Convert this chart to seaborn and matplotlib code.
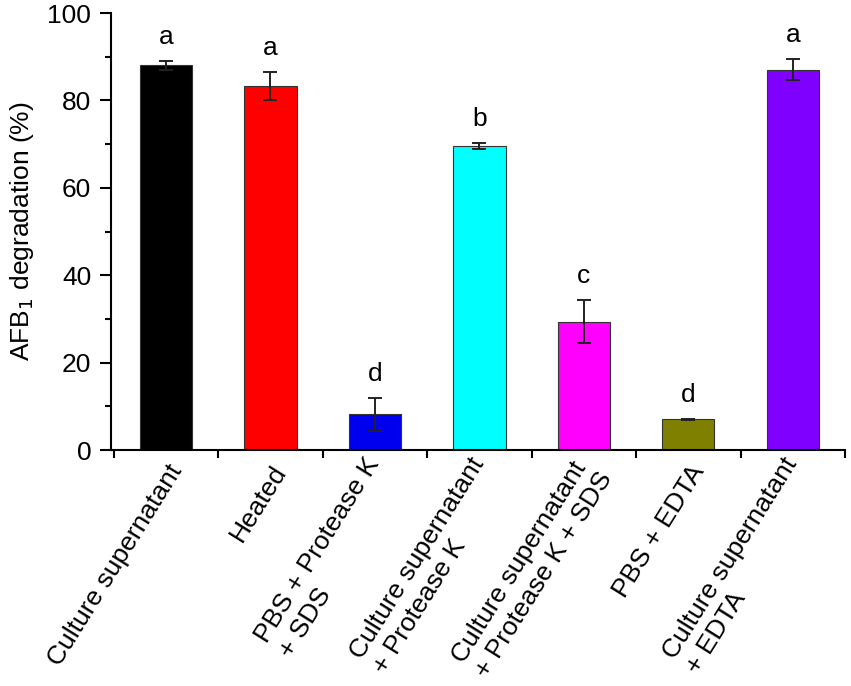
import numpy as np
import pandas as pd
import matplotlib
matplotlib.use("Agg")
import matplotlib.pyplot as plt
import matplotlib.transforms as mtransforms
import seaborn as sns

# data
treatments = ["Culture supernatant", "Heated", "PBS + Protease K\n+ SDS",
              "Culture supernatant\n+ Protease K",
              "Culture supernatant\n+ Protease K + SDS",
              "PBS + EDTA", "Culture supernatant\n+ EDTA"]
degradation = [88.0, 83.4, 8.2, 69.6, 29.4, 7.0, 87.0]
errors = [1.0, 3.2, 3.8, 0.7, 4.9, 0.2, 2.4]
letters = ["a", "a", "d", "b", "c", "d", "a"]
bar_colors = ["#000000", "#ff0000", "#0000ee", "#00ffff", "#ff00ff", "#808000", "#8000ff"]

sns.set_style("ticks", {"axes.edgecolor": "black", "xtick.color": "black",
                        "ytick.color": "black", "text.color": "black",
                        "axes.labelcolor": "black"})
plt.rcParams['font.family'] = ['Liberation Sans', 'DejaVu Sans']

df = pd.DataFrame({"treatment": treatments, "deg": degradation})

fig = plt.figure(figsize=(8.51, 6.86), dpi=100)
ax = fig.add_axes([0.130, 0.344, 0.863, 0.637])

sns.barplot(data=df, x="treatment", y="deg", hue="treatment", palette=bar_colors,
            saturation=1, width=0.5, edgecolor="#333333", linewidth=0.8,
            legend=False, ax=ax)
ax.errorbar(np.arange(len(treatments)), degradation, yerr=errors, fmt="none",
            ecolor="#222222", elinewidth=1.4, capsize=5, capthick=1.4)

for i, (v, e, l) in enumerate(zip(degradation, errors, letters)):
    ax.text(i, v + e + 5.5, l, ha="center", va="center", fontsize=19, color="black")

ax.set_ylim(0, 100)
ax.set_xlim(-0.53, 6.5)
ax.set_yticks(np.arange(0, 101, 20))
ax.set_yticks(np.arange(10, 100, 20), minor=True)
ax.set_xticks(np.arange(-0.5, 7, 1), minor=True)
ax.set_xticks(np.arange(len(treatments)))
ax.set_xticklabels([])

# rotated category labels, drawn as text so they can be nudged
offset = mtransforms.ScaledTranslation(11 / 100, -17 / 100, fig.dpi_scale_trans)
for i, name in enumerate(treatments):
    ax.text(i, 0, name, transform=ax.get_xaxis_transform() + offset,
            rotation=58, ha="right", va="center", rotation_mode="anchor",
            multialignment="left", fontsize=19, color="black")

ax.tick_params(axis="y", which="major", length=8, width=1.5, labelsize=19, pad=6)
ax.tick_params(axis="y", which="minor", length=4, width=1.5)
ax.tick_params(axis="x", which="major", length=0)
ax.tick_params(axis="x", which="minor", length=6, width=1.5)

ax.set_xlabel("")
ax.set_ylabel("AFB$_1$ degradation (%)", fontsize=19, labelpad=8)
sns.despine(ax=ax)
for s in ["left", "bottom"]:
    ax.spines[s].set_linewidth(1.5)

fig.savefig("out.png", dpi=100)
